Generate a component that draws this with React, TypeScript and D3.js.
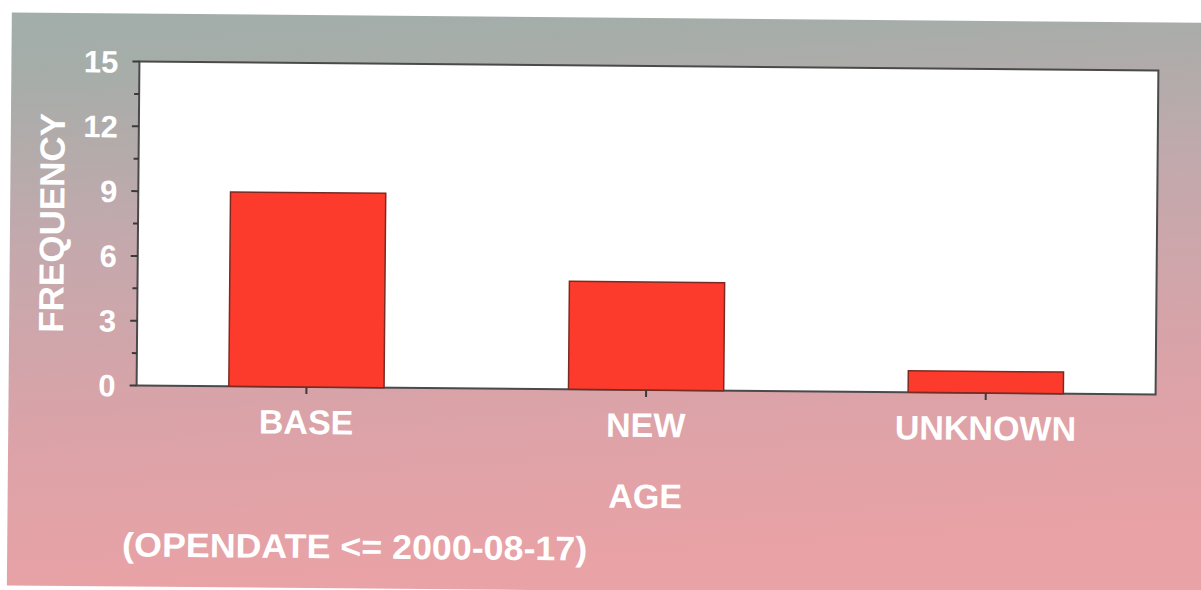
import React from 'react';
import * as d3 from 'd3';

const categories = ['BASE', 'NEW', 'UNKNOWN'];
const frequencies = [9, 5, 1];
const majorTicks = [0, 3, 6, 9, 12, 15];
const minorTicks = [1.5, 4.5, 7.5, 10.5, 13.5];

const W = 1201;
const H = 590;
const plot = { left: 138, right: 1157, top: 66, bottom: 390 };
const font = '"Liberation Sans", Arial, sans-serif';

const App: React.FC = () => {
    const x = d3
        .scalePoint<string>()
        .domain(categories)
        .range([plot.left, plot.right])
        .padding(0.5);
    const y = d3.scaleLinear().domain([0, 15]).range([plot.bottom, plot.top]);
    const barW = x.step() * 0.457;

    return (
        <div style={{ position: 'absolute', left: 0, top: 0 }}>
            <svg width={W} height={H} style={{ display: 'block', background: '#fff' }}>
                <defs>
                    <linearGradient id="bg" x1="0" y1="0" x2="0.15" y2="1">
                        <stop offset="0" stopColor="#a1aea9" />
                        <stop offset="0.12" stopColor="#a7ada9" />
                        <stop offset="0.38" stopColor="#c2a9ad" />
                        <stop offset="0.7" stopColor="#d9a3a8" />
                        <stop offset="1" stopColor="#e9a2a6" />
                    </linearGradient>
                </defs>
                {/* scan is slightly tilted */}
                <g transform="rotate(0.5 647 228)">
                    <rect x={10} y={18} width={1210} height={573} fill="url(#bg)" />

                    {/* plot area */}
                    <rect
                        x={plot.left}
                        y={plot.top}
                        width={plot.right - plot.left}
                        height={plot.bottom - plot.top}
                        fill="#fff"
                        stroke="#4a4a4a"
                        strokeWidth={2}
                    />

                    {/* bars */}
                    {categories.map((c, i) => (
                        <rect
                            key={c}
                            x={(x(c) ?? 0) - barW / 2}
                            y={y(frequencies[i])}
                            width={barW}
                            height={y(0) - y(frequencies[i])}
                            fill="#fd3b2c"
                            stroke="#7a2a22"
                            strokeWidth={1.5}
                        />
                    ))}

                    {/* y ticks */}
                    {majorTicks.map((t) => (
                        <g key={'M' + t}>
                            <line
                                x1={plot.left - 7}
                                x2={plot.left}
                                y1={y(t)}
                                y2={y(t)}
                                stroke="#3a3a3a"
                                strokeWidth={2}
                            />
                            <text
                                x={117}
                                y={y(t)}
                                dy="0.36em"
                                textAnchor="end"
                                fill="#fff"
                                fontFamily={font}
                                fontWeight="bold"
                                fontSize={31}
                            >
                                {t}
                            </text>
                        </g>
                    ))}
                    {minorTicks.map((t) => (
                        <line
                            key={'m' + t}
                            x1={plot.left - 5}
                            x2={plot.left}
                            y1={y(t)}
                            y2={y(t)}
                            stroke="#3a3a3a"
                            strokeWidth={2}
                        />
                    ))}

                    {/* x ticks and labels */}
                    {categories.map((c) => (
                        <g key={'x' + c}>
                            <line
                                x1={x(c)}
                                x2={x(c)}
                                y1={plot.bottom}
                                y2={plot.bottom + 7}
                                stroke="#3a3a3a"
                                strokeWidth={2}
                            />
                            <text
                                x={x(c)}
                                y={plot.bottom + 47}
                                textAnchor="middle"
                                fill="#fff"
                                fontFamily={font}
                                fontWeight="bold"
                                fontSize={34}
                            >
                                {c}
                            </text>
                        </g>
                    ))}

                    {/* axis titles */}
                    <text
                        transform={`translate(64, ${(plot.top + plot.bottom) / 2}) rotate(-90)`}
                        textAnchor="middle"
                        fill="#fff"
                        fontFamily={font}
                        fontWeight="bold"
                        fontSize={35}
                    >
                        FREQUENCY
                    </text>
                    <text
                        x={(plot.left + plot.right) / 2}
                        y={508}
                        textAnchor="middle"
                        fill="#fff"
                        fontFamily={font}
                        fontWeight="bold"
                        fontSize={34}
                    >
                        AGE
                    </text>
                    <text
                        x={125}
                        y={561}
                        fill="#fff"
                        fontFamily={font}
                        fontWeight="bold"
                        fontSize={34}
                        textLength={465}
                        lengthAdjust="spacingAndGlyphs"
                    >
                        (OPENDATE &lt;= 2000-08-17)
                    </text>
                </g>
            </svg>
        </div>
    );
};

export default App;
